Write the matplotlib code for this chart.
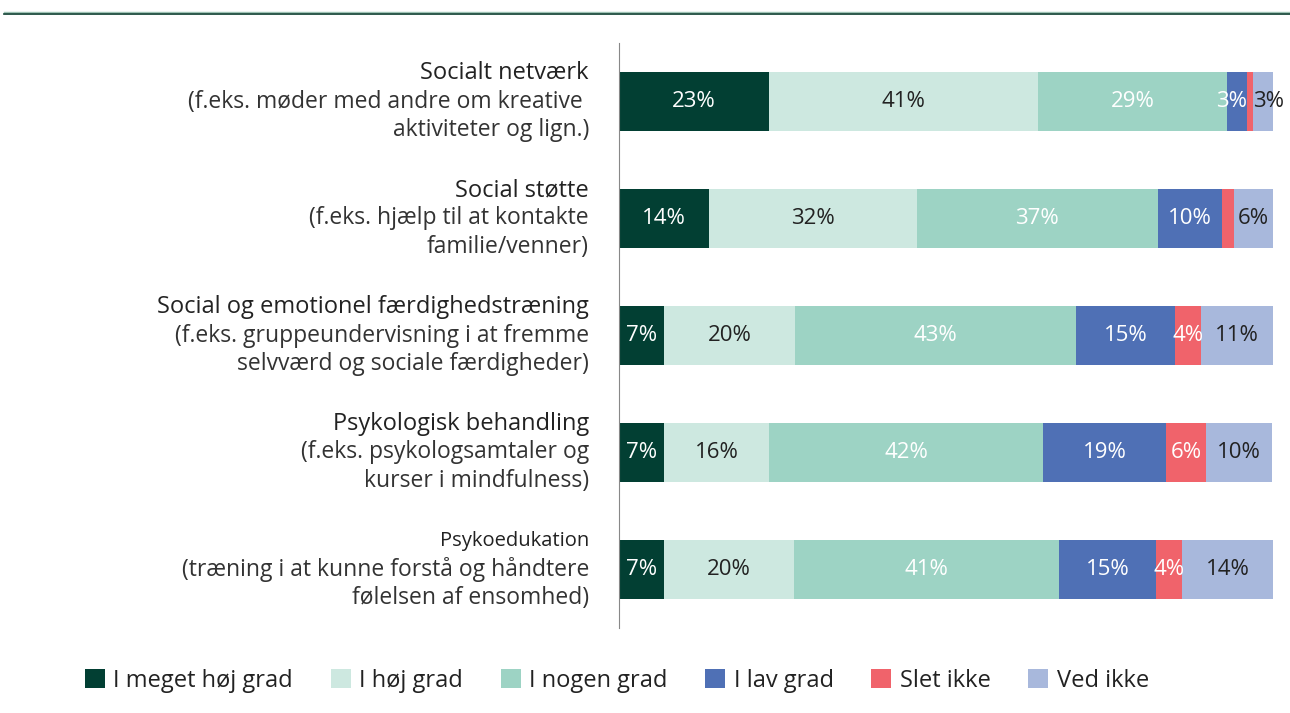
import numpy as np
import matplotlib
matplotlib.use("Agg")
import matplotlib.pyplot as plt
from matplotlib.lines import Line2D

plt.rcParams['font.family'] = ['Open Sans', 'DejaVu Sans']

# data
titles = ['Socialt netværk', 'Social støtte', 'Social og emotionel færdighedstræning',
          'Psykologisk behandling', 'Psykoedukation']
subtitles = [['(f.eks. møder med andre om kreative ', 'aktiviteter og lign.)'],
             ['(f.eks. hjælp til at kontakte', 'familie/venner)'],
             ['(f.eks. gruppeundervisning i at fremme', 'selvværd og sociale færdigheder)'],
             ['(f.eks. psykologsamtaler og', 'kurser i mindfulness)'],
             ['(træning i at kunne forstå og håndtere', 'følelsen af ensomhed)']]
categories = ['I meget høj grad', 'I høj grad', 'I nogen grad', 'I lav grad', 'Slet ikke', 'Ved ikke']
meget_hoj = [23, 13.8, 6.9, 6.9, 6.9]
hoj = [41, 31.7, 20, 16, 19.9]
nogen = [29, 36.9, 43, 42, 40.5]
lav = [3, 9.8, 15.1, 18.8, 14.8]
slet_ikke = [1, 1.8, 4, 6.1, 4]
ved_ikke = [3, 6.1, 11, 10.1, 13.9]
# labels shown in the bars (None = no label)
labels = [[23, 41, 29, 3, None, 3],
          [14, 32, 37, 10, None, 6],
          [7, 20, 43, 15, 4, 11],
          [7, 16, 42, 19, 6, 10],
          [7, 20, 41, 15, 4, 14]]

colors = ['#023f33', '#cde8e0', '#9dd3c4', '#4f70b5', '#f0636b', '#a8b8dc']
txt_colors = ['white', '#222222', 'white', 'white', 'white', '#222222']

series = [meget_hoj, hoj, nogen, lav, slet_ikke, ved_ikke]

fig = plt.figure(figsize=(12.9, 7.13), dpi=100)
ax = fig.add_axes([619/1290, 1-628/713, 654/1290, 585/713])

y = np.arange(len(titles))
left = np.zeros(len(titles))
for i, s in enumerate(series):
    s = np.array(s)
    ax.barh(y, s, left=left, height=0.5, color=colors[i], label=categories[i])
    for j in range(len(titles)):
        lab = labels[j][i]
        if lab is None:
            continue
        xpos, ha = left[j] + s[j]/2, 'center'
        # very narrow segments: push the label outwards so the two don't collide
        if s[j] < 4 and i == 3:
            xpos, ha = left[j] + s[j], 'right'
        elif s[j] < 4 and i == 5:
            xpos, ha = left[j], 'left'
        ax.text(xpos, y[j], f'{lab}%', ha=ha, va='center',
                color=txt_colors[i], fontsize=16)
    left += s

ax.set_xlim(0, 100)
ax.set_ylim(len(titles) - 0.5, -0.5)
for sp in ['top', 'right', 'bottom']:
    ax.spines[sp].set_visible(False)
ax.spines['left'].set_color('#888888')
ax.set_xticks([])
ax.set_yticks([])

# category labels
for j in range(len(titles)):
    fs = 14.5 if j == 4 else 17
    ax.annotate(titles[j], xy=(-0.046, y[j]), xycoords=ax.get_yaxis_transform(),
                xytext=(0, 20.5), textcoords='offset points', ha='right', va='center',
                fontsize=fs, color='#222222')
    for k, line in enumerate(subtitles[j]):
        ax.annotate(line, xy=(-0.046, y[j]), xycoords=ax.get_yaxis_transform(),
                    xytext=(0, -20.5 * k), textcoords='offset points', ha='right',
                    va='center', fontsize=16.5, color='#333333')

# top rule
fig.add_artist(Line2D([4/1290, 1], [1-12/713, 1-12/713], color='#9fc3b5', lw=1))
fig.add_artist(Line2D([4/1290, 1], [1-13.5/713, 1-13.5/713], color='#0b3d2e', lw=1.2))

fig.legend(loc='center', bbox_to_anchor=(617/1290, 1-681/713), ncol=6, frameon=False,
           fontsize=17, handlelength=0.85, handleheight=0.85, handletextpad=0.35,
           columnspacing=1.6, labelcolor='#222222')

fig.savefig('out.png', dpi=100)
